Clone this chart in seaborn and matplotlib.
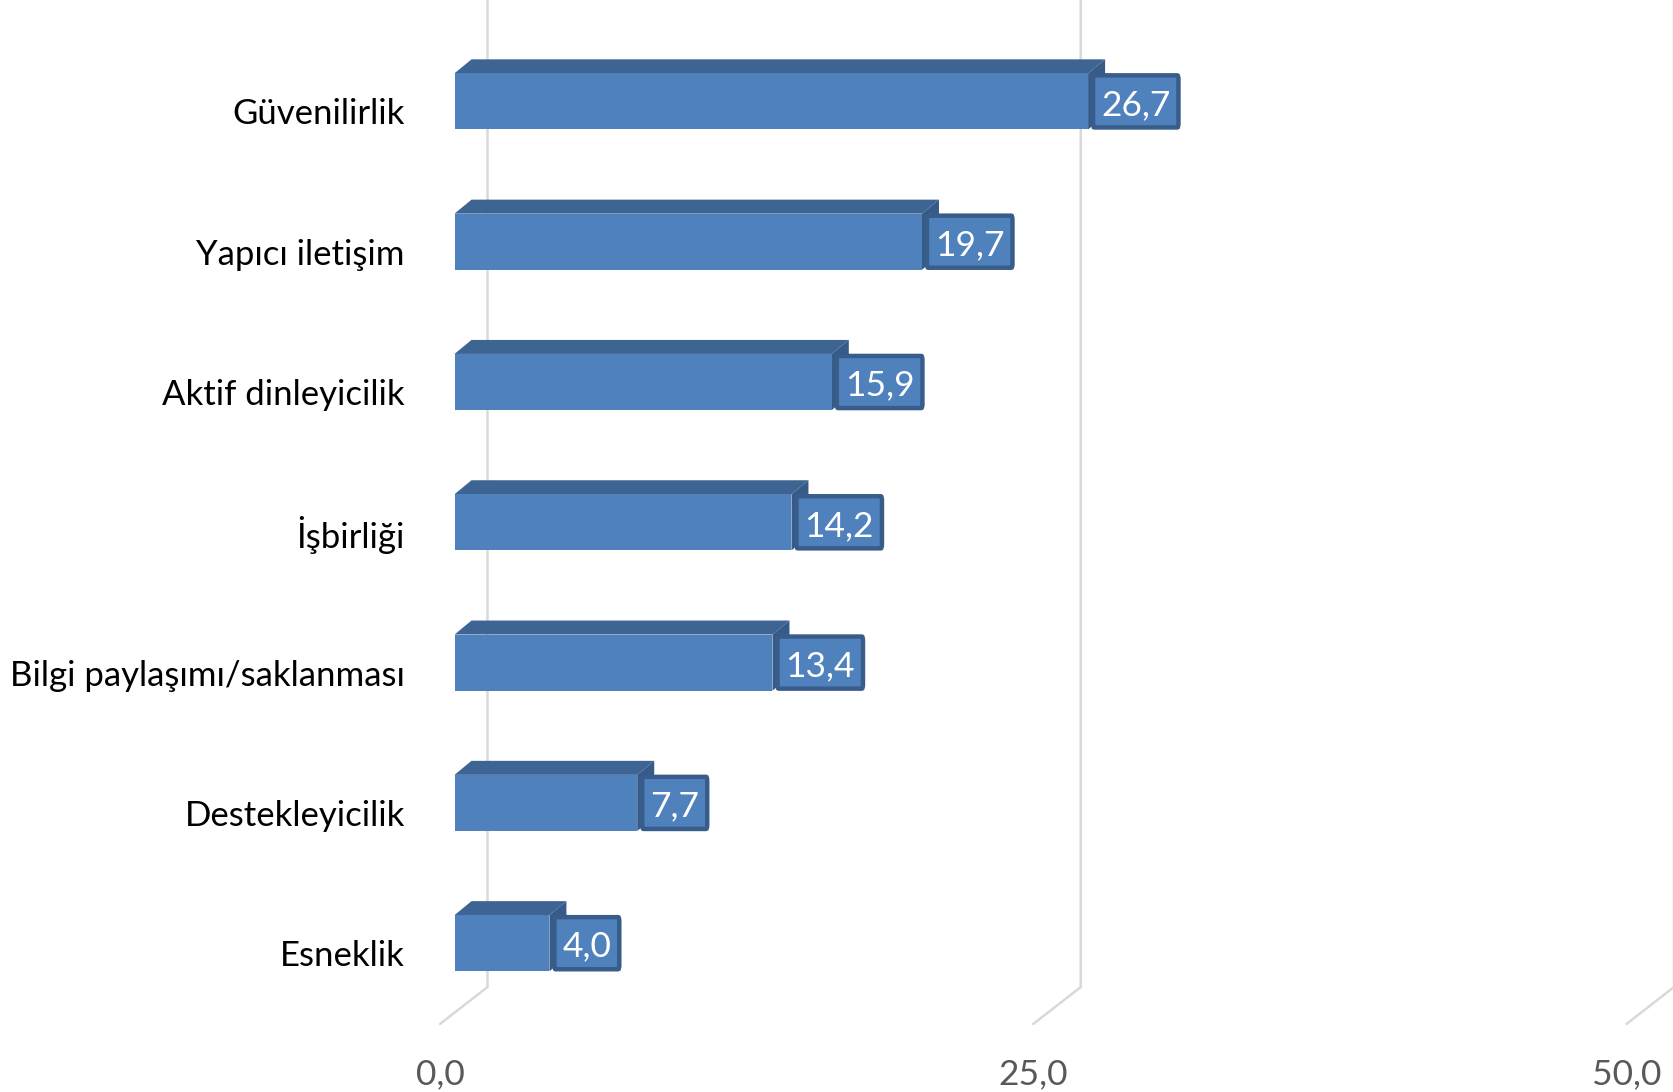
import numpy as np
import pandas as pd
import matplotlib
matplotlib.use("Agg")
import matplotlib.pyplot as plt
import seaborn as sns
from matplotlib.patches import Polygon, FancyBboxPatch

categories = ["Güvenilirlik", "Yapıcı iletişim", "Aktif dinleyicilik", "İşbirliği",
              "Bilgi paylaşımı/saklanması", "Destekleyicilik", "Esneklik"]
values = [26.7, 19.7, 15.9, 14.2, 13.4, 7.7, 4.0]
value_labels = ["26,7", "19,7", "15,9", "14,2", "13,4", "7,7", "4,0"]
ticks = [0, 25, 50]
tick_labels = ["0,0", "25,0", "50,0"]

sns.set_theme(style="white")
plt.rcParams["font.family"] = ["Lato", "DejaVu Sans"]

W, H = 1673, 1092
fig = plt.figure(figsize=(W / 100, H / 100), dpi=100)
ax = fig.add_axes([0, 0, 1, 1])

df = pd.DataFrame({"cat": categories, "val": values})
FRONT = "#4F81BD"
TOP = "#3E6494"
SIDE = "#375B88"
EDGE = "#385D8A"

sns.barplot(data=df, x="val", y="cat", order=categories, orient="h", color=FRONT,
            saturation=1, width=0.4, ax=ax, linewidth=0, zorder=3)

# pixel-based layout
PPU = 23.73       # px per value unit
X0 = 454.5        # px of value 0 (bar front)
ROW = 140.3       # px between categories
Y0 = 101.4        # px center of first bar
ax.set_xlim(-X0 / PPU, (W - X0) / PPU)
ax.set_ylim((H - Y0) / ROW, -Y0 / ROW)
ax.axis("off")

def px_x(p):
    return p / PPU

def px_y(p):
    return p / ROW

# depth of bars
ddx, ddy = px_x(17), -px_y(14)

# gridlines (3D floor + back wall)
back_off = px_x(33)
front_off = -px_x(14.5)
y_foot_back = (987 - Y0) / ROW
y_foot_front = (1024 - Y0) / ROW
y_top = -Y0 / ROW - 0.1
for t, tl in zip(ticks, tick_labels):
    ax.plot([t + back_off, t + back_off, t + front_off],
            [y_top, y_foot_back, y_foot_front],
            color="#D9D9D9", lw=1.8, zorder=0, solid_joinstyle="miter")
    ax.text(t + front_off, (1074 - Y0) / ROW, tl, ha="center", va="center",
            fontsize=25.5, color="#595959")

renderer = fig.canvas.get_renderer()
for patch, v, lab, cat in zip(ax.patches, values, value_labels, categories):
    x0 = patch.get_x()
    yt = patch.get_y()
    h = patch.get_height()
    yb = yt + h
    xr = x0 + patch.get_width()
    top = Polygon([(x0, yt), (xr, yt), (xr + ddx, yt + ddy), (x0 + ddx, yt + ddy)],
                  closed=True, facecolor=TOP, edgecolor="none", zorder=2)
    side = Polygon([(xr, yt), (xr + ddx, yt + ddy), (xr + ddx, yb + ddy), (xr, yb)],
                   closed=True, facecolor=SIDE, edgecolor="none", zorder=2)
    ax.add_patch(top)
    ax.add_patch(side)
    yc = yt + h / 2
    # category label
    ax.text(px_x(405 - X0), yc + px_y(13), cat, ha="right", va="center",
            fontsize=25, color="#000000")
    # value label box
    bl = xr + px_x(3)
    t = ax.text(bl, yc, lab, ha="left", va="center", fontsize=25.5, color="white", zorder=6)
    bb = t.get_window_extent(renderer=renderer)
    tw = bb.width
    padx = 10
    bw = px_x(tw + 2 * padx)
    t.set_position((bl + px_x(padx), yc + px_y(3.5)))
    box = FancyBboxPatch((bl + px_x(2), yt + px_y(2)), bw - px_x(4), h - px_y(4),
                         boxstyle="round,pad=0,rounding_size=0.05",
                         facecolor=FRONT, edgecolor=EDGE, linewidth=3.2, zorder=5,
                         mutation_aspect=ROW / PPU / 10)
    ax.add_patch(box)

fig.savefig("out.png", dpi=100)
